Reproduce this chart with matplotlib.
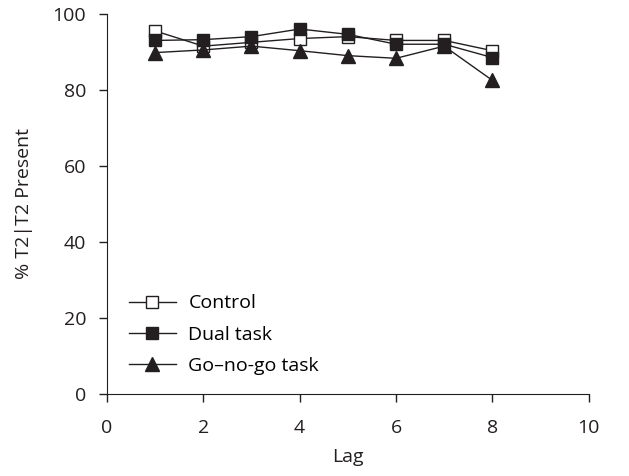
import matplotlib.pyplot as plt

lags = [1, 2, 3, 4, 5, 6, 7, 8]
control = [95.5, 91.5, 92.5, 93.5, 94.0, 93.0, 93.0, 90.3]
dual_task = [93.0, 93.2, 94.0, 96.0, 94.6, 92.0, 92.0, 88.5]
go_no_go = [89.8, 90.5, 91.5, 90.3, 89.0, 88.3, 91.5, 82.5]

ink = "#231f20"
plt.rcParams["font.family"] = ["Open Sans", "DejaVu Sans"]
plt.rcParams["font.size"] = 14

fig = plt.figure(figsize=(6.29, 4.76), dpi=100)
ax = fig.add_axes([0.170, 0.172, 0.766, 0.799])

ax.plot(lags, control, color=ink, lw=1, marker="s", ms=8,
        mfc="white", mec=ink, mew=1, label="Control")
ax.plot(lags, dual_task, color=ink, lw=1, marker="s", ms=8,
        mfc=ink, mec=ink, label="Dual task")
ax.plot(lags, go_no_go, color=ink, lw=1, marker="^", ms=9.5,
        mfc=ink, mec=ink, label="Go\u2013no-go task")

ax.set_xlim(0, 10)
ax.set_ylim(0, 100)
ax.set_xticks(range(0, 11, 2))
ax.set_yticks(range(0, 101, 20))
ax.set_xlabel("Lag", color=ink, labelpad=8)
ax.set_ylabel("% T2|T2 Present", color=ink, labelpad=14)

for side in ["top", "right"]:
    ax.spines[side].set_visible(False)
for side in ["left", "bottom"]:
    ax.spines[side].set_color(ink)
ax.tick_params(direction="out", length=6, width=1, color=ink,
               labelcolor=ink)
ax.tick_params(axis="x", pad=12)
ax.tick_params(axis="y", pad=9)

ax.legend(loc="lower left", frameon=False, bbox_to_anchor=(0.03, 0.03),
          handlelength=2.4, handletextpad=0.65, labelspacing=0.68,
          borderaxespad=0)

fig.savefig("out.png", dpi=100)
